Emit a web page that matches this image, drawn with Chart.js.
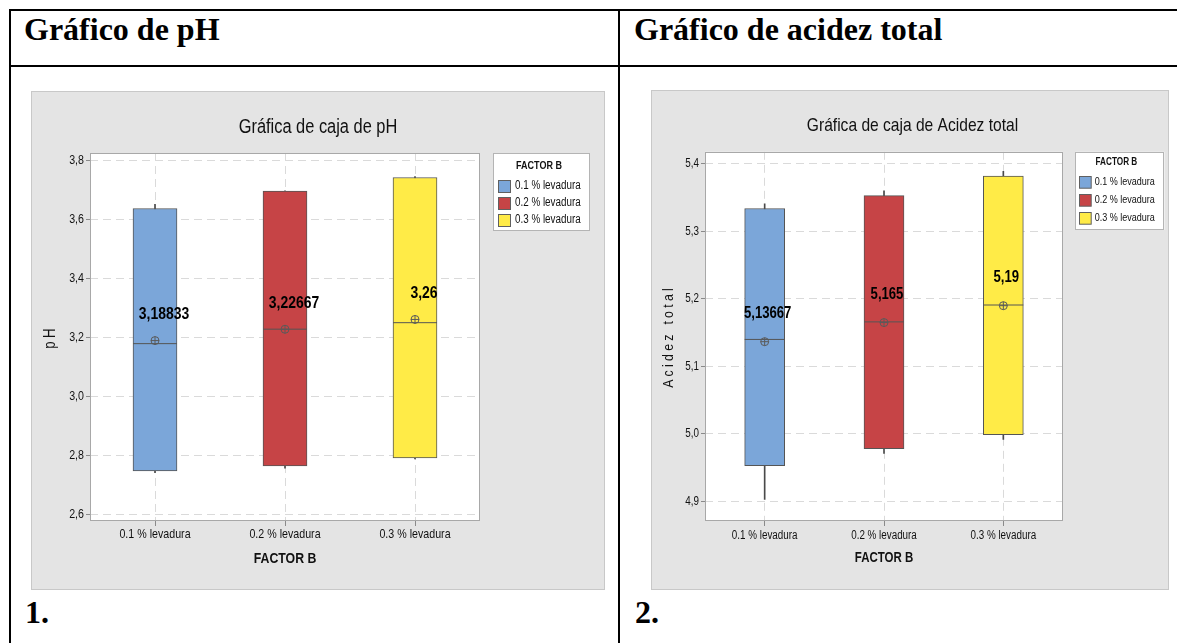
<!DOCTYPE html>
<html>
<head>
<meta charset="utf-8">
<script src="https://cdn.jsdelivr.net/npm/chart.js@4.4.1/dist/chart.umd.min.js"></script>
<style>
html,body{margin:0;padding:0;background:#fff;width:1177px;height:643px;overflow:hidden;position:relative;}
.line{position:absolute;background:#000;}
.hdr{position:absolute;font-family:'Liberation Serif','Times New Roman',serif;font-weight:bold;font-size:32px;line-height:1;color:#000;white-space:nowrap;}
.panel{position:absolute;background:#e4e4e4;box-shadow:inset 0 0 0 1px #c8c8c8;}
.panel canvas{position:absolute;left:0;top:0;}
</style>
</head>
<body>
<div class="line" style="left:9px;top:9px;width:1168px;height:2px"></div>
<div class="line" style="left:9px;top:65px;width:1168px;height:2px"></div>
<div class="line" style="left:9px;top:9px;width:2px;height:634px"></div>
<div class="line" style="left:618px;top:9px;width:2px;height:634px"></div>
<div class="hdr" style="left:24px;top:13px">Gráfico de pH</div>
<div class="hdr" style="left:634px;top:13px">Gráfico de acidez total</div>
<div class="hdr" style="left:25px;top:596px">1.</div>
<div class="hdr" style="left:635px;top:596px">2.</div>

<div class="panel" style="left:31px;top:91px;width:574px;height:499px"><canvas id="c1" width="574" height="499"></canvas></div>
<div class="panel" style="left:651px;top:90px;width:518px;height:500px"><canvas id="c2" width="518" height="500"></canvas></div>

<script>
// ---------- data ----------
const categories = ['0.1 % levadura', '0.2 % levadura', '0.3 % levadura'];
const xTitle = 'FACTOR B';

// pH
const phTitle = 'Gráfica de caja de pH';
const phAxisTitle = 'pH';
const phMin    = [2.741, 2.756, 2.787];
const phQ1     = [2.747, 2.764, 2.791];
const phMedian = [3.178, 3.227, 3.249];
const phQ3     = [3.636, 3.695, 3.741];
const phMax    = [3.650, 3.696, 3.744];
const phMean   = [3.18833, 3.22667, 3.26];
const phTicks  = [2.6, 2.8, 3.0, 3.2, 3.4, 3.6, 3.8];
const phRange  = [2.577, 3.824];

// Acidez total
const acTitle = 'Gráfica de caja de Acidez total';
const acAxisTitle = 'Acidez total';
const acMin    = [4.903, 4.971, 4.992];
const acQ1     = [4.953, 4.978, 4.999];
const acMedian = [5.140, 5.166, 5.191];
const acQ3     = [5.334, 5.353, 5.382];
const acMax    = [5.341, 5.360, 5.389];
const acMean   = [5.13667, 5.165, 5.19];
const acTicks  = [4.9, 5.0, 5.1, 5.2, 5.3, 5.4];
const acRange  = [4.871, 5.418];

// ---------- style ----------
const NARROW = "'Liberation Sans', Arial, sans-serif";
const TEXT_SQUEEZE = 0.82;   // horizontal condensing of all chart text (narrow face look)
const BOX_COLORS = ['#7BA6D9', '#C64446', '#FFEB47'];
const EDGE = '#555555';
const WHISK = '#4a4a4a';
const MEAN_C = '#5a5a5a';
const GRID = '#dadada';
const TICK = '#8a8a8a';
const TXT = '#111111';

function fmt(v) { return String(v).replace('.', ','); }

function condenseText(ctx, k) {
  const orig = ctx.fillText;
  ctx.fillText = function (t, x, y, mw) {
    this.save();
    this.translate(x, y);
    this.scale(k, 1);
    if (mw === undefined || mw === null) orig.call(this, t, 0, 0);
    else orig.call(this, t, 0, 0, mw / k);
    this.restore();
  };
}

function decor(d, s) {
  return {
    id: 'decor',
    beforeDraw(chart) {
      const {ctx, chartArea: a} = chart;
      ctx.save();
      ctx.fillStyle = '#ffffff';
      ctx.fillRect(a.left, a.top, a.right - a.left, a.bottom - a.top);
      ctx.restore();
    },
    beforeDatasetsDraw(chart) {
      const {ctx, chartArea: a} = chart;
      ctx.save();
      ctx.strokeStyle = '#a8a8a8';
      ctx.lineWidth = 1;
      const l = Math.round(a.left) + 0.5, t = Math.round(a.top) + 0.5;
      const r = Math.round(a.right) - 0.5, b = Math.round(a.bottom) - 0.5;
      ctx.strokeRect(l, t, r - l, b - t);
      ctx.restore();
    },
    afterDatasetsDraw(chart) {
      const {ctx} = chart;
      const xs = chart.scales.x, ys = chart.scales.y;
      ctx.save();
      ctx.font = 'bold ' + s.meanSize + 'px ' + NARROW;
      ctx.fillStyle = '#000';
      ctx.textAlign = 'center';
      ctx.textBaseline = 'middle';
      d.mean.forEach((m, i) => {
        ctx.fillText(fmt(m), xs.getPixelForValue(i) + s.meanDx, ys.getPixelForValue(m) - s.meanDy);
      });
      ctx.restore();
    },
    afterDraw(chart) {
      const {ctx, chartArea: a} = chart;
      // y axis title (letter spaced)
      ctx.save();
      ctx.translate(s.yTitleX, (a.top + a.bottom) / 2);
      ctx.rotate(-Math.PI / 2);
      ctx.font = s.yTitleSize + 'px ' + NARROW;
      if ('letterSpacing' in ctx) ctx.letterSpacing = s.yTitleLS + 'px';
      ctx.textAlign = 'center';
      ctx.textBaseline = 'middle';
      ctx.fillStyle = TXT;
      ctx.fillText(d.axisTitle, 0, 0);
      ctx.restore();
      // legend
      const L = s.legend;
      const x0 = a.right + L.gap, y0 = a.top + L.dy0;
      ctx.save();
      ctx.fillStyle = '#ffffff';
      ctx.fillRect(x0, y0, L.w, L.h);
      ctx.strokeStyle = '#b4b4b4';
      ctx.lineWidth = 1;
      ctx.strokeRect(Math.round(x0) + 0.5, Math.round(y0) + 0.5, Math.round(L.w) - 1, Math.round(L.h) - 1);
      ctx.fillStyle = TXT;
      ctx.font = 'bold ' + L.titleSize + 'px ' + NARROW;
      ctx.textAlign = 'center';
      ctx.textBaseline = 'middle';
      ctx.fillText(xTitle, x0 + L.titleDx, y0 + L.titleDy);
      ctx.font = L.textSize + 'px ' + NARROW;
      ctx.textAlign = 'left';
      categories.forEach((c, i) => {
        const cy = y0 + L.row0 + i * L.rowStep;
        const sx = Math.round(x0 + L.swDx) + 0.5, sy = Math.round(cy - L.sw / 2) + 0.5;
        ctx.fillStyle = BOX_COLORS[i];
        ctx.fillRect(sx, sy, L.sw, L.sw);
        ctx.strokeStyle = '#606060';
        ctx.strokeRect(sx, sy, L.sw, L.sw);
        ctx.fillStyle = TXT;
        ctx.fillText(c, x0 + L.textDx, cy);
      });
      ctx.restore();
    }
  };
}

function buildChart(id, d, s) {
  const canvas = document.getElementById(id);
  condenseText(canvas.getContext('2d'), TEXT_SQUEEZE);
  const datasets = [
    {type: 'bar', label: 'whisker', data: d.min.map((v, i) => [v, d.max[i]]),
     backgroundColor: WHISK, barThickness: 1, grouped: false, order: 4, xAxisID: 'x', yAxisID: 'y'},
    {type: 'bar', label: 'box', data: d.q1.map((v, i) => [v, d.q3[i]]),
     backgroundColor: BOX_COLORS, borderColor: EDGE, borderWidth: 1, borderSkipped: false,
     barThickness: s.boxW, grouped: false, order: 3, xAxisID: 'x', yAxisID: 'y'},
    {type: 'line', label: 'median', data: d.median, showLine: false, pointStyle: 'line',
     pointRadius: s.boxW / 2, borderColor: EDGE, pointBorderColor: EDGE, pointBorderWidth: 1, order: 2, xAxisID: 'x', yAxisID: 'y'},
    {type: 'line', label: 'mean', data: d.mean, showLine: false, pointStyle: 'circle', pointRadius: 4,
     pointBackgroundColor: 'rgba(0,0,0,0)', pointBorderColor: MEAN_C, pointBorderWidth: 1, order: 1, xAxisID: 'x', yAxisID: 'y'},
    {type: 'line', label: 'mean cross', data: d.mean, showLine: false, pointStyle: 'cross', pointRadius: 4,
     pointBorderColor: MEAN_C, pointBorderWidth: 1, order: 0, xAxisID: 'x', yAxisID: 'y'}
  ];
  return new Chart(canvas, {
    type: 'bar',
    data: {labels: categories, datasets},
    options: {
      responsive: false, animation: false, devicePixelRatio: 1,
      layout: {padding: {left: s.padL, right: 0, top: 0, bottom: 0}},
      plugins: {
        legend: {display: false},
        tooltip: {enabled: false},
        title: {display: true, text: d.title, color: TXT,
                font: {family: NARROW, size: s.titleSize, weight: 'normal', lineHeight: 1.2},
                padding: {top: s.titlePadT, bottom: s.titlePadB}}
      },
      scales: {
        x: {type: 'category', offset: true,
            grid: {offset: false, color: GRID, lineWidth: 1, drawTicks: true, tickLength: 5, tickColor: TICK, tickWidth: 1},
            border: {display: false, dash: [8, 5]},
            ticks: {font: {family: NARROW, size: s.xTickSize}, color: TXT, padding: s.xTickPad, maxRotation: 0, autoSkip: false},
            title: {display: true, text: xTitle, color: TXT,
                    font: {family: NARROW, size: s.xTitleSize, weight: 'bold', lineHeight: 1.2},
                    padding: {top: 0, bottom: s.xTitlePadB}},
            afterFit(sc) { sc.height = s.xAxisH; }},
        y: {type: 'linear', position: 'left', min: d.range[0], max: d.range[1],
            afterBuildTicks(sc) { sc.ticks = d.ticks.map(v => ({value: v})); },
            grid: {color: GRID, lineWidth: 1, drawTicks: true, tickLength: 4, tickColor: TICK, tickWidth: 1},
            border: {display: false, dash: [8, 5]},
            ticks: {font: {family: NARROW, size: s.yTickSize}, color: TXT, padding: 2,
                    callback: v => Number(v).toFixed(1).replace('.', ',')},
            afterFit(sc) { sc.width = s.yAxisW; }},
        yr: {type: 'linear', position: 'right', display: true,
             grid: {display: false, drawTicks: false}, border: {display: false}, ticks: {display: false},
             afterFit(sc) { sc.width = s.rightW; }}
      }
    },
    plugins: [decor(d, s)]
  });
}

buildChart('c1',
  {title: phTitle, axisTitle: phAxisTitle, min: phMin, q1: phQ1, median: phMedian, q3: phQ3, max: phMax,
   mean: phMean, ticks: phTicks, range: phRange},
  {padL: 0, yAxisW: 59, rightW: 125, xAxisH: 69, titleSize: 20, titlePadT: 24, titlePadB: 14,
   xTickSize: 13, xTickPad: 1, xTitleSize: 15, xTitlePadB: 22, yTickSize: 13, boxW: 44,
   meanSize: 17, meanDx: 9, meanDy: 26, yTitleX: 20, yTitleSize: 16, yTitleLS: 4,
   legend: {gap: 13, dy0: 0, w: 97, h: 78, titleDx: 46, titleDy: 13, titleSize: 11, swDx: 5, sw: 12,
            row0: 32.7, rowStep: 17.2, textDx: 22, textSize: 12}});

buildChart('c2',
  {title: acTitle, axisTitle: acAxisTitle, min: acMin, q1: acQ1, median: acMedian, q3: acQ3, max: acMax,
   mean: acMean, ticks: acTicks, range: acRange},
  {padL: 5, yAxisW: 49, rightW: 106, xAxisH: 69, titleSize: 19, titlePadT: 24, titlePadB: 15,
   xTickSize: 12, xTickPad: 2, xTitleSize: 14, xTitlePadB: 23, yTickSize: 12, boxW: 40,
   meanSize: 16, meanDx: 3, meanDy: 28, yTitleX: 18, yTitleSize: 15, yTitleLS: 4,
   legend: {gap: 12.4, dy0: 0, w: 89, h: 78, titleDx: 41, titleDy: 10, titleSize: 10, swDx: 3.6, sw: 11.7,
            row0: 30.5, rowStep: 17.7, textDx: 19.3, textSize: 11}});
</script>
</body>
</html>
